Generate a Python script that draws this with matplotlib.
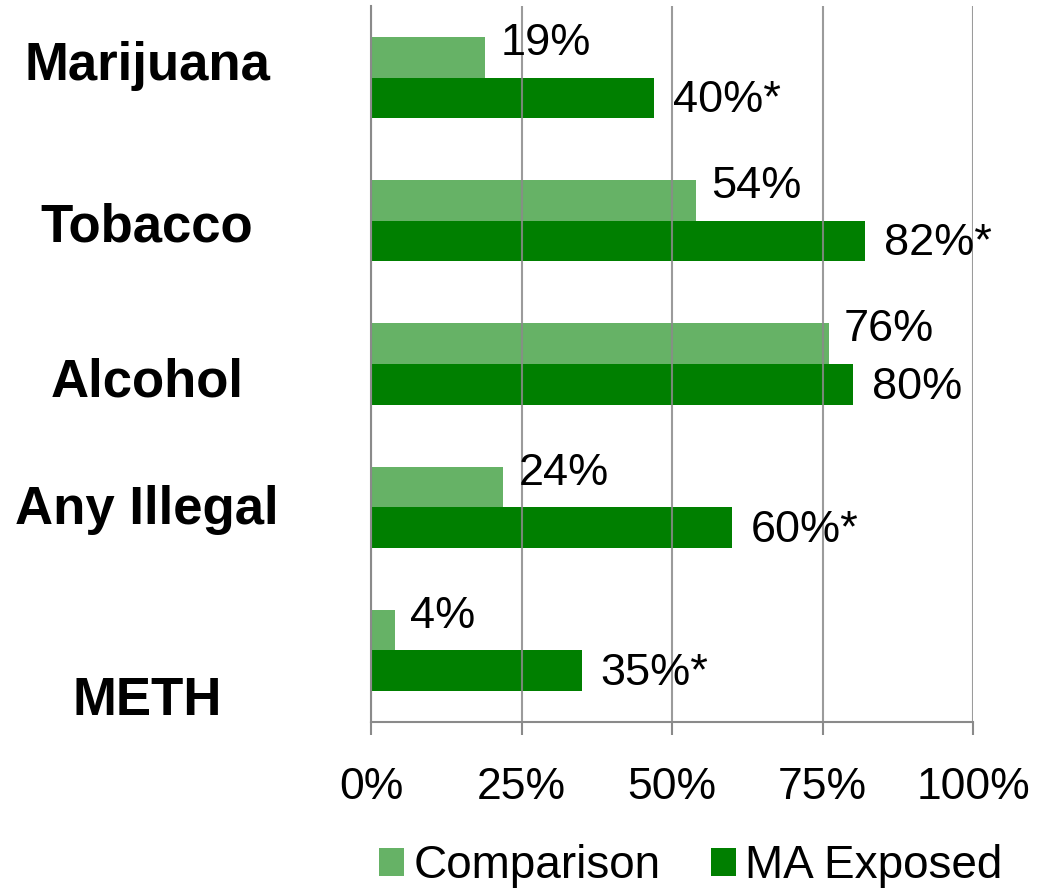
import matplotlib
matplotlib.use("Agg")
import matplotlib.pyplot as plt
from matplotlib.patches import Patch
from matplotlib.ticker import FixedLocator, FuncFormatter
import matplotlib.transforms as mtransforms

plt.rcParams['font.family'] = ['Liberation Sans', 'DejaVu Sans']

# ---- data ----
categories = ["Marijuana", "Tobacco", "Alcohol", "Any Illegal", "METH"]
comparison = [19, 54, 76, 22, 4]
ma_exposed = [47, 82, 80, 60, 35]
comparison_labels = ["19%", "54%", "76%", "24%", "4%"]
ma_labels = ["40%*", "82%*", "80%", "60%*", "35%*"]
series_names = ["Comparison", "MA Exposed"]
x_ticks = [0, 25, 50, 75, 100]

# ---- style / layout ----
c_light = "#66B266"
c_dark = "#007F00"
grid_c = "#8A8A8A"
cat_label_shift = [-0.08, 0.05, 0.13, 0.02, 0.35]  # manual label placement (category units)

fig = plt.figure(figsize=(10.51, 8.96), dpi=100)
ax = fig.add_axes([0.3530, 0.1942, 0.5728, 0.7991])

h = 0.283
ypos = list(range(len(categories)))
yc = [y - h / 2 for y in ypos]
ym = [y + h / 2 for y in ypos]
ax.barh(yc, comparison, height=h, color=c_light, zorder=2)
ax.barh(ym, ma_exposed, height=h, color=c_dark, zorder=2)

ax.set_xlim(0, 100)
ax.set_ylim(len(categories) - 0.5, -0.5)

ax.xaxis.set_major_locator(FixedLocator(x_ticks))
ax.xaxis.set_major_formatter(FuncFormatter(lambda v, p: f"{int(v)}%"))
ax.grid(axis='x', color=grid_c, linewidth=1.5, alpha=0.85, zorder=3)
ax.set_axisbelow(False)
for ln in ax.get_xgridlines():
    ln.set_zorder(3)
ax.set_yticks([])
ax.tick_params(axis='x', length=9.4, width=1.5, color=grid_c, pad=23,
               labelsize=32, labelcolor='black', direction='out')
for s in ['top', 'right']:
    ax.spines[s].set_visible(False)
for s in ['bottom', 'left']:
    ax.spines[s].set_color(grid_c)
    ax.spines[s].set_linewidth(1.5)

# data labels
for y, v, lab in zip(yc, comparison, comparison_labels):
    ax.annotate(lab, (v, y), xytext=(10.8, 10.0), textcoords='offset points',
                ha='left', va='center', fontsize=32.5, color='black')
for y, v, lab in zip(ym, ma_exposed, ma_labels):
    ax.annotate(lab, (v, y), xytext=(13.7, -2.0), textcoords='offset points',
                ha='left', va='center', fontsize=32.5, color='black')

# category labels
trans = mtransforms.blended_transform_factory(ax.transAxes, ax.transData)
for y, cat, dy in zip(ypos, categories, cat_label_shift):
    ax.text(-0.372, y + dy, cat, transform=trans, ha='center', va='center',
            fontsize=38, fontweight='bold', color='black')

handles = [Patch(facecolor=c_light, edgecolor='none'),
           Patch(facecolor=c_dark, edgecolor='none')]
fig.legend(handles, series_names, loc='center', bbox_to_anchor=(691 / 1051, 1 - 866 / 896),
           ncol=2, frameon=False, fontsize=33, handlelength=0.55, handleheight=0.55,
           handletextpad=0.2, columnspacing=1.1, borderaxespad=0)

fig.savefig("out.png", dpi=100)
